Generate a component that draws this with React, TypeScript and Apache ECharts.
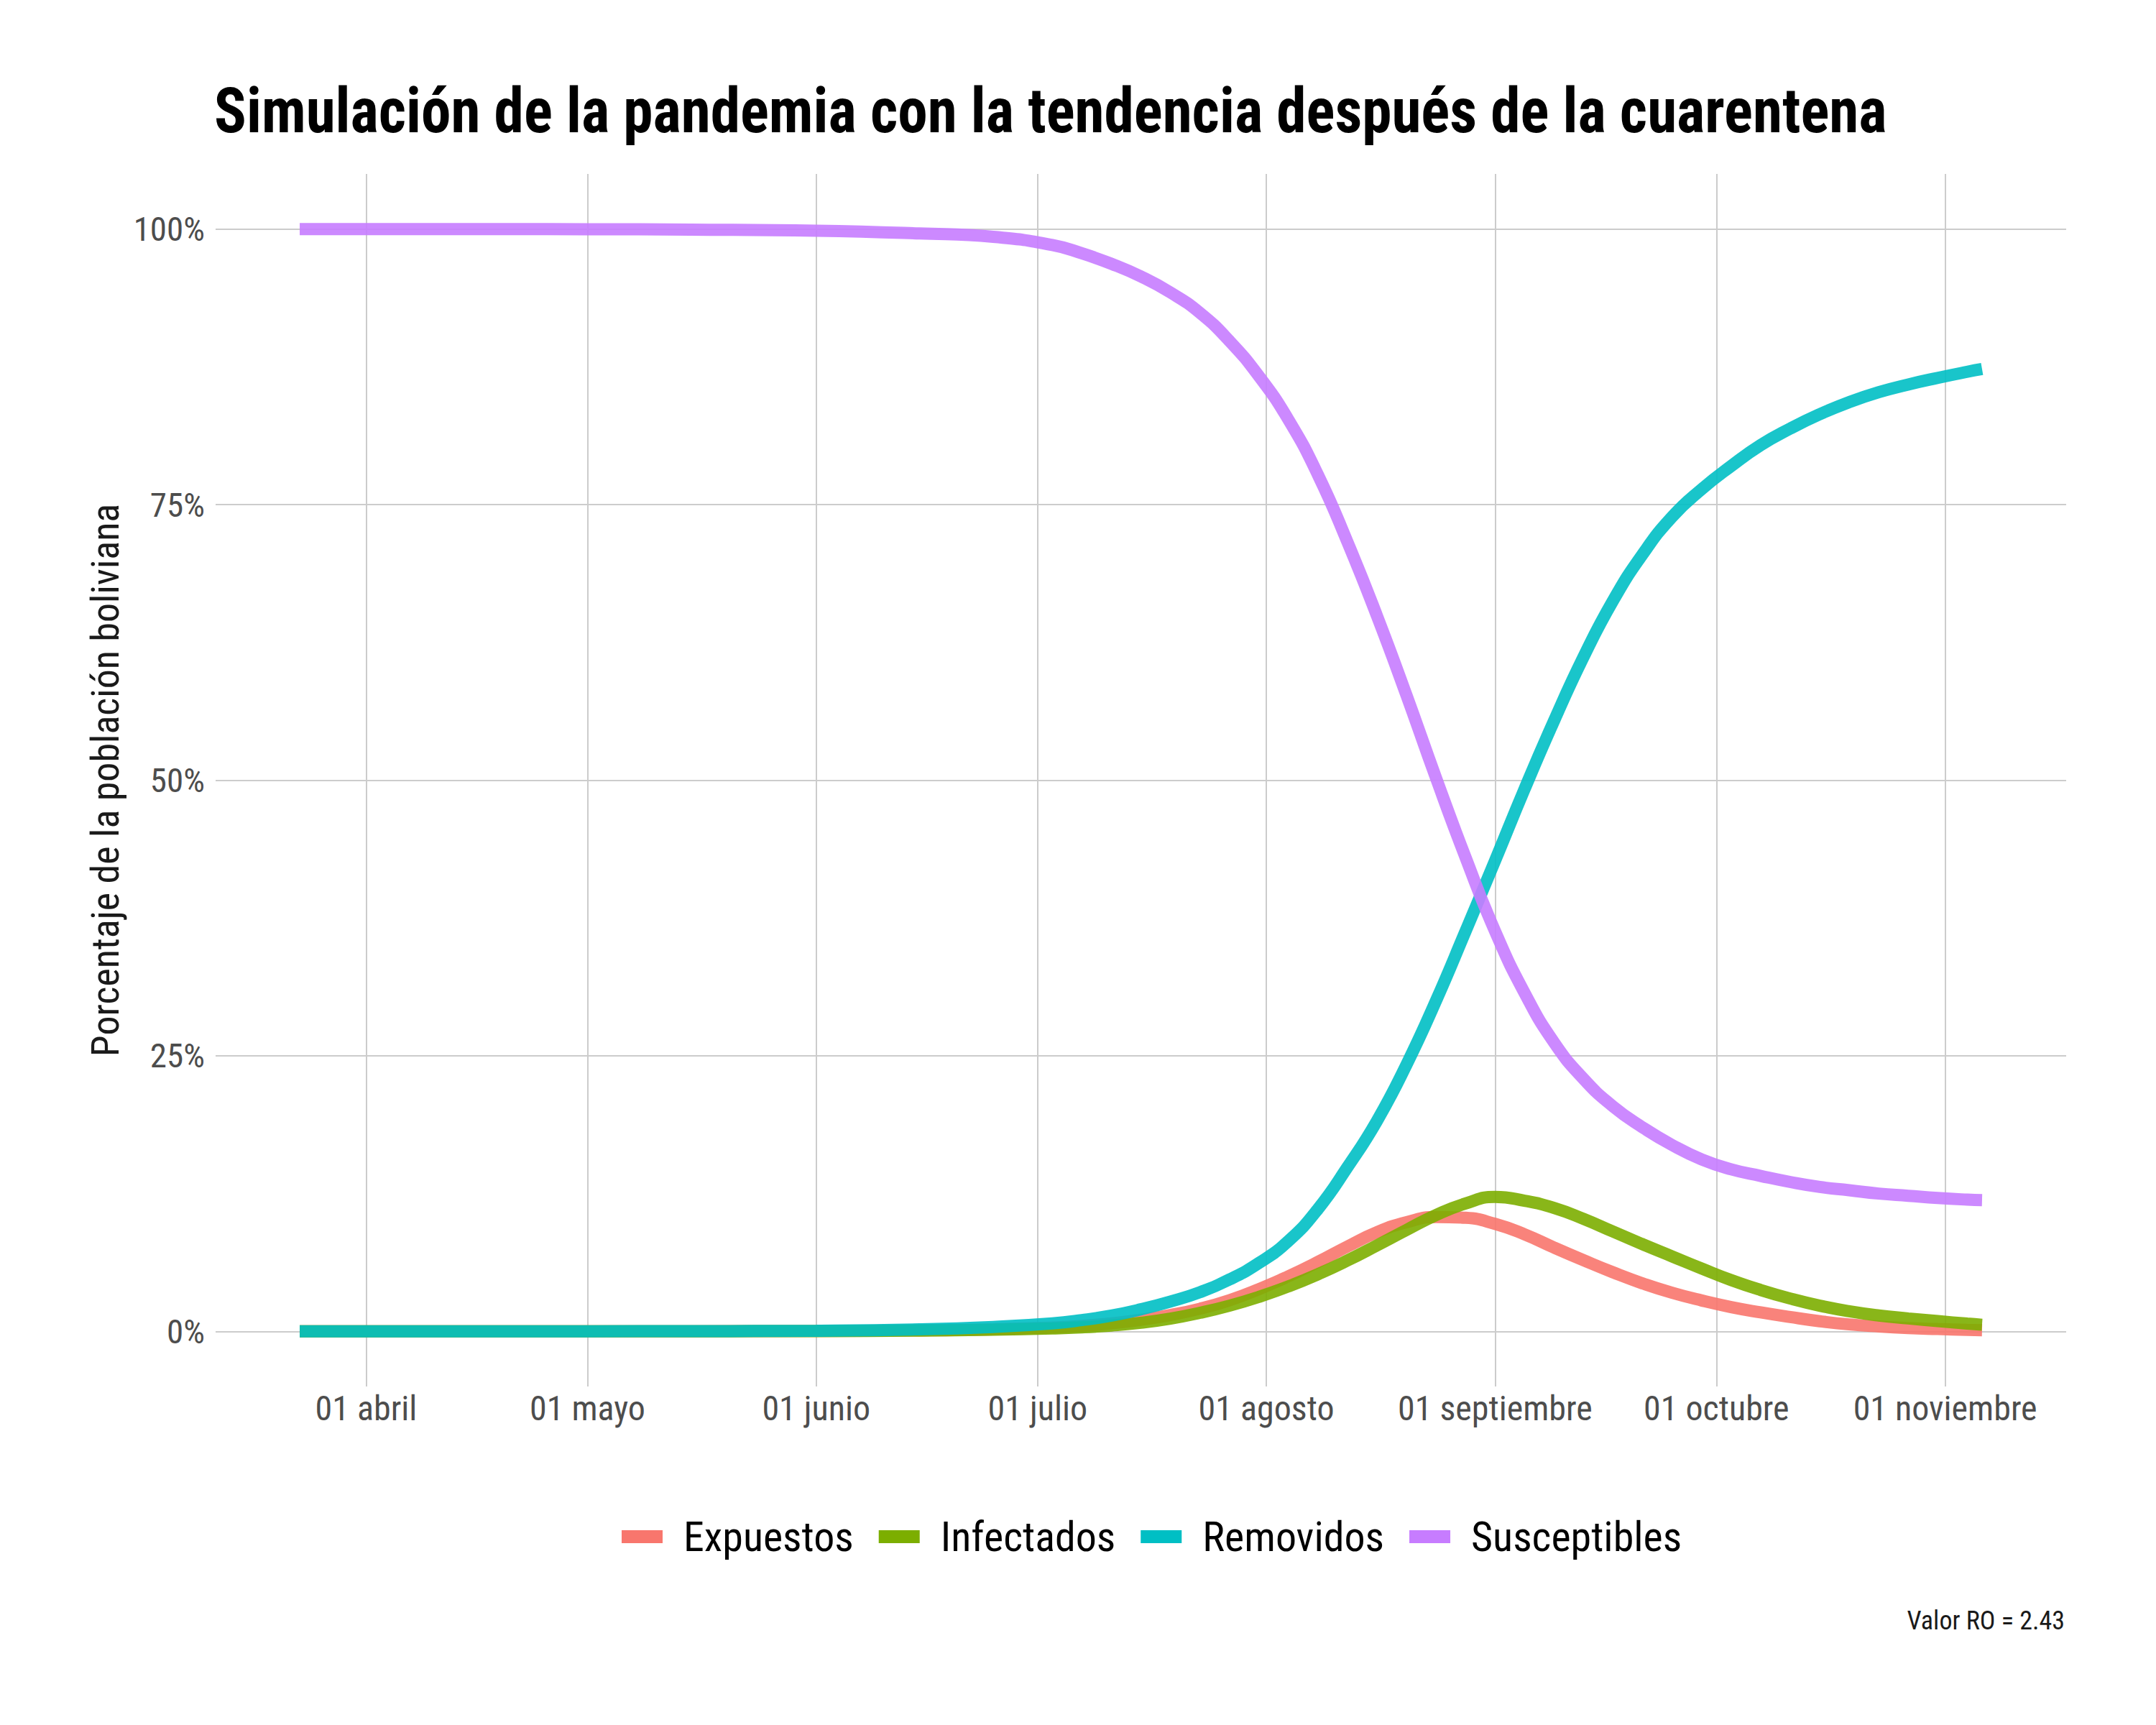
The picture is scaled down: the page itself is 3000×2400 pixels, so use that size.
import React, { useEffect, useRef } from "react";
import * as echarts from "echarts";

const FONT = "'Roboto Condensed', 'Liberation Sans Narrow', 'DejaVu Sans Condensed', Roboto, sans-serif";

const TITLE = "Simulación de la pandemia con la tendencia después de la cuarentena";
const Y_NAME = "Porcentaje de la población boliviana";
const CAPTION = "Valor RO = 2.43";

const dates = [
  "2020-03-23", "2020-04-01", "2020-04-15", "2020-05-01", "2020-05-15", "2020-06-01",
  "2020-06-15", "2020-06-25",
  "2020-07-03", "2020-07-07", "2020-07-11", "2020-07-15", "2020-07-19", "2020-07-23",
  "2020-07-27", "2020-07-31", "2020-08-04", "2020-08-08", "2020-08-12", "2020-08-16",
  "2020-08-20", "2020-08-24", "2020-08-28", "2020-09-01", "2020-09-05", "2020-09-09",
  "2020-09-13", "2020-09-17", "2020-09-21", "2020-09-25", "2020-09-29", "2020-10-03",
  "2020-10-07", "2020-10-11", "2020-10-15", "2020-10-19", "2020-10-23", "2020-10-27",
  "2020-10-31", "2020-11-04", "2020-11-06",
];

const expuestos = [
  0, 0, 0, 0, 0.01, 0.03, 0.09, 0.19,
  0.35, 0.5, 0.73, 1.05, 1.48, 2.05,
  2.82, 3.83, 5.0, 6.3, 7.7, 9.0,
  9.9, 10.38, 10.3, 9.75, 8.8, 7.6,
  6.45, 5.35, 4.35, 3.5, 2.8, 2.2,
  1.72, 1.3, 0.92, 0.63, 0.44, 0.3,
  0.21, 0.13, 0.1,
];

const infectados = [
  0, 0, 0, 0, 0.01, 0.02, 0.07, 0.15,
  0.26, 0.36, 0.53, 0.78, 1.15, 1.68,
  2.33, 3.13, 4.08, 5.18, 6.43, 7.8,
  9.2, 10.55, 11.6, 12.2, 11.85, 11.2,
  10.2, 9.05, 7.9, 6.8, 5.7, 4.65,
  3.75, 2.98, 2.33, 1.82, 1.44, 1.17,
  0.93, 0.7, 0.6,
];

const removidos = [
  0, 0, 0, 0.01, 0.02, 0.06, 0.18, 0.4,
  0.72, 1.02, 1.43, 2.0, 2.7, 3.55,
  4.7, 6.2, 8.2, 11.1, 14.9, 19.1,
  24.2, 30.0, 36.3, 42.7, 49.2, 55.4,
  61.2, 66.3, 70.5, 73.9, 76.4, 78.5,
  80.4, 81.9, 83.2, 84.3, 85.2, 85.9,
  86.5, 87.05, 87.3,
];

const susceptibles = [
  100, 100, 100, 99.98, 99.95, 99.85, 99.6, 99.3,
  98.55, 97.8, 96.85, 95.7, 94.25, 92.4,
  89.85, 86.65, 82.7, 77.7, 71.6, 64.9,
  57.7, 50.2, 43.0, 36.3, 30.7, 26.2,
  22.9, 20.4, 18.5, 16.9, 15.6, 14.7,
  14.1, 13.55, 13.1, 12.8, 12.5, 12.3,
  12.1, 11.95, 11.9,
];

const seriesNames = ["Expuestos", "Infectados", "Removidos", "Susceptibles"];
const seriesColors = ["#F8766D", "#7CAE00", "#00BFC4", "#C77CFF"];

const monthStarts = [
  "2020-04-01", "2020-05-01", "2020-06-01", "2020-07-01",
  "2020-08-01", "2020-09-01", "2020-10-01", "2020-11-01",
];
const monthLabels = [
  "01 abril", "01 mayo", "01 junio", "01 julio",
  "01 agosto", "01 septiembre", "01 octubre", "01 noviembre",
];

const yTicks = [0, 25, 50, 75, 100];

const ORIGIN = Date.UTC(2020, 3, 1);
const dayOf = (s: string) => {
  const [y, m, d] = s.split("-").map(Number);
  return (Date.UTC(y, m - 1, d) - ORIGIN) / 86400000;
};

export default function App() {
  const ref = useRef<HTMLDivElement>(null);
  useEffect(() => {
    if (!ref.current) return;
    const chart = echarts.init(ref.current, null, { renderer: "svg" });

    const xs = dates.map(dayOf);
    const all = [expuestos, infectados, removidos, susceptibles];
    const tickDays = monthStarts.map(dayOf);
    const xMin = xs[0];
    const xMax = xs[xs.length - 1];
    const pad = (xMax - xMin) * 0.05;

    const ctx = document.createElement("canvas").getContext("2d")!;
    ctx.font = `bold 87px ${FONT}`;
    const tw = ctx.measureText(TITLE).width;
    const titleScale = tw > 0 ? 2328 / tw : 1;

    chart.setOption({
      animation: false,
      backgroundColor: "#ffffff",
      textStyle: { fontFamily: FONT },
      grid: { left: 300, top: 242, width: 2575, height: 1687, containLabel: false },
      xAxis: {
        type: "value",
        min: xMin - pad,
        max: xMax + pad,
        axisLine: { show: false },
        axisTick: { show: false, customValues: tickDays },
        axisLabel: {
          customValues: tickDays,
          fontSize: 48,
          color: "#4D4D4D",
          fontFamily: FONT,
          margin: 6,
          formatter: (v: number) => {
            const i = tickDays.findIndex((t) => Math.abs(t - v) < 0.01);
            return i >= 0 ? monthLabels[i] : "";
          },
        },
        splitLine: { show: true, lineStyle: { color: "#CCCCCC", width: 2 } },
      },
      yAxis: {
        type: "value",
        min: -5,
        max: 105,
        name: Y_NAME,
        nameLocation: "middle",
        nameRotate: 90,
        nameGap: 127,
        nameTextStyle: { fontSize: 54, color: "#1A1A1A", fontFamily: FONT },
        axisLine: { show: false },
        axisTick: { show: false, customValues: yTicks },
        axisLabel: {
          customValues: yTicks,
          fontSize: 47,
          color: "#4D4D4D",
          fontFamily: FONT,
          margin: 15,
          formatter: (v: number) => `${v}%`,
        },
        splitLine: { show: true, lineStyle: { color: "#CCCCCC", width: 2 } },
      },
      legend: {
        show: true,
        left: 860,
        top: 2104,
        orient: "horizontal",
        icon: "rect",
        itemWidth: 57,
        itemHeight: 18,
        itemGap: 35,
        textStyle: { fontSize: 58, color: "#000000", fontFamily: FONT, padding: [0, 0, 0, 24] },
        data: seriesNames,
      },
      series: seriesNames.map((name, k) => ({
        name,
        type: "line",
        data: xs.map((x, i) => [x, all[k][i]]),
        showSymbol: false,
        smooth: 0.5,
        color: seriesColors[k],
        lineStyle: { width: 17, color: seriesColors[k], opacity: 0.9, cap: "butt" },
        itemStyle: { color: seriesColors[k] },
        z: 2 + k,
      })),
      graphic: [
        {
          type: "text",
          x: 298,
          y: 154,
          scaleX: titleScale,
          style: {
            text: TITLE,
            fontFamily: FONT,
            fontWeight: "bold",
            fontSize: 87,
            fill: "#000000",
            align: "left",
            verticalAlign: "middle",
          },
        },
        {
          type: "text",
          x: 2873,
          y: 2255,
          style: {
            text: CAPTION,
            fontFamily: FONT,
            fontSize: 36,
            fill: "#1A1A1A",
            align: "right",
            verticalAlign: "middle",
          },
        },
      ],
    });

    return () => chart.dispose();
  }, []);

  return (
    <div
      ref={ref}
      style={{ position: "absolute", left: 0, top: 0, width: 3000, height: 2400, background: "#fff" }}
    />
  );
}
